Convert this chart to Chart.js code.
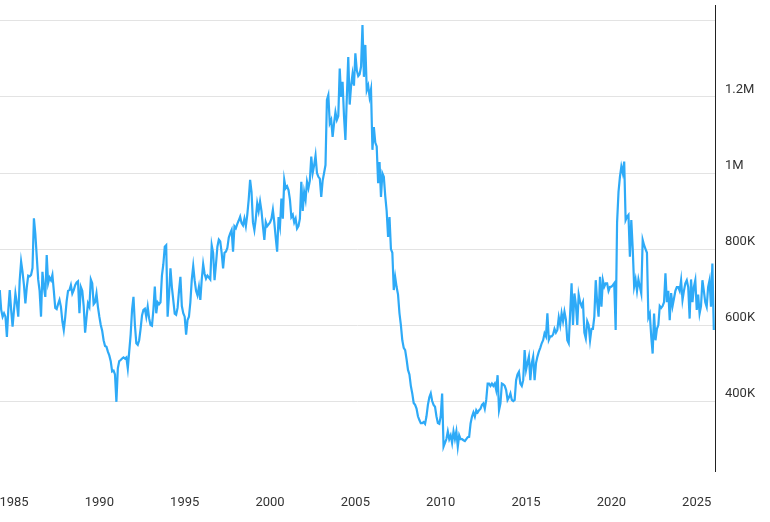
<!DOCTYPE html>
<html>
<head>
<meta charset="utf-8">
<script src="https://cdn.jsdelivr.net/npm/chart.js@4"></script>
<style>
  html, body { margin: 0; padding: 0; background: #fff; }
  #wrap { width: 770px; height: 522px; }
</style>
</head>
<body>
<div id="wrap"><canvas id="chart"></canvas></div>
<script>
// monthly values, thousands of units, starting Jan 1984
const startYear = 1984
const sales = [
  640, 660, 692, 640, 622, 631, 622, 569, 640, 692, 640, 596, // 1984
  640, 683, 657, 622, 718, 767, 740, 705, 657, 700, 730, 728, // 1985
  732, 750, 881, 840, 780, 720, 690, 622, 740, 700, 674, 784, // 1986
  710, 725, 718, 732, 690, 645, 642, 655, 666, 648, 610, 587, // 1987
  620, 662, 690, 692, 705, 683, 692, 705, 712, 715, 631, 700, // 1988
  690, 650, 580, 620, 657, 648, 720, 710, 655, 660, 683, 648, // 1989
  622, 600, 585, 560, 545, 543, 530, 520, 505, 478, 480, 470, // 1990
  398, 486, 505, 508, 512, 515, 512, 515, 486, 530, 574, 640, // 1991
  674, 600, 552, 548, 560, 590, 625, 640, 643, 622, 648, 618, // 1992
  600, 598, 640, 701, 631, 660, 655, 660, 730, 760, 806, 810, // 1993
  622, 680, 749, 700, 665, 630, 627, 645, 690, 727, 650, 631, // 1994
  622, 575, 613, 622, 660, 720, 755, 718, 690, 678, 700, 666, // 1995
  720, 760, 735, 722, 730, 725, 720, 810, 790, 718, 760, 806, // 1996
  825, 820, 790, 749, 790, 793, 803, 830, 841, 850, 793, 860, // 1997
  855, 866, 875, 885, 868, 862, 880, 860, 890, 930, 982, 950, // 1998
  870, 850, 880, 920, 900, 925, 900, 860, 824, 871, 860, 865, // 1999
  870, 880, 903, 870, 830, 793, 884, 860, 933, 880, 982, 960, // 2000
  965, 955, 930, 884, 890, 870, 880, 854, 860, 880, 977, 900, // 2001
  950, 930, 977, 960, 980, 1043, 1000, 1020, 1046, 1000, 990, 985, // 2002
  937, 980, 1000, 1021, 1192, 1205, 1131, 1140, 1095, 1130, 1160, 1140, // 2003
  1150, 1275, 1200, 1240, 1150, 1087, 1200, 1305, 1180, 1230, 1260, 1230, // 2004
  1315, 1270, 1255, 1260, 1280, 1389, 1253, 1337, 1218, 1230, 1200, 1220, // 2005
  1061, 1121, 1080, 1070, 973, 1029, 937, 999, 990, 940, 900, 832, // 2006
  884, 800, 790, 692, 726, 700, 680, 631, 600, 560, 540, 534, // 2007
  510, 482, 470, 440, 420, 395, 390, 380, 360, 350, 342, 342, // 2008
  345, 340, 360, 390, 410, 420, 400, 390, 385, 360, 342, 340, // 2009
  360, 420, 280, 290, 300, 320, 300, 310, 290, 320, 300, 320, // 2010
  280, 310, 300, 300, 297, 295, 300, 305, 306, 341, 359, 370, // 2011
  359, 376, 370, 376, 380, 390, 394, 380, 403, 446, 446, 440, // 2012
  446, 440, 446, 429, 468, 376, 394, 446, 444, 440, 429, 403, // 2013
  410, 420, 403, 400, 403, 455, 470, 477, 446, 440, 455, 534, // 2014
  482, 500, 517, 455, 500, 517, 455, 500, 517, 530, 540, 552, // 2015
  560, 578, 570, 631, 561, 570, 570, 575, 590, 580, 587, 620, // 2016
  600, 631, 610, 635, 615, 560, 552, 631, 710, 600, 683, 655, // 2017
  600, 680, 660, 650, 660, 580, 565, 610, 600, 560, 590, 590, // 2018
  622, 718, 660, 622, 727, 648, 718, 701, 710, 710, 690, 700, // 2019
  701, 705, 710, 587, 870, 950, 990, 1017, 1000, 1030, 876, 885, // 2020
  890, 780, 876, 800, 701, 720, 690, 720, 701, 683, 824, 810, // 2021
  800, 790, 620, 630, 570, 525, 630, 560, 590, 600, 650, 645, // 2022
  650, 660, 736, 660, 690, 613, 684, 650, 670, 690, 700, 700, // 2023
  690, 718, 666, 690, 710, 718, 700, 617, 720, 660, 700, 718, // 2024
  640, 680, 630, 650, 718, 690, 660, 648, 700, 718, 648, 762, // 2025
  587 // 2026
]
const yearTicks = [1985, 1990, 1995, 2000, 2005, 2010, 2015, 2020, 2025]
const valueTicks = [400, 600, 800, 1000, 1200, 1400]
const valueLabels = ['400K', '600K', '800K', '1M', '1.2M', '']

const points = sales.map((v, i) => ({ x: startYear + i / 12, y: v }))

new Chart(document.getElementById('chart'), {
  type: 'line',
  data: {
    datasets: [{
      data: points,
      borderColor: '#2eaaf7',
      borderWidth: 2.2,
      pointRadius: 0,
      tension: 0
    }]
  },
  options: {
    responsive: true,
    maintainAspectRatio: false,
    animation: false,
    layout: { padding: { top: 5, bottom: 0, left: 0, right: 0 } },
    plugins: { legend: { display: false }, tooltip: { enabled: false } },
    scales: {
      x: {
        type: 'linear',
        min: 1984.18,
        max: 2026.07,
        afterBuildTicks: s => { s.ticks = yearTicks.map(v => ({ value: v })) },
        afterFit: s => { s.height = 51; s.paddingLeft = 0; s.paddingRight = 0 },
        grid: { display: false },
        border: { display: false },
        ticks: {
          color: '#333',
          font: { family: 'Roboto', size: 13 },
          padding: 16,
          maxRotation: 0,
          callback: v => String(v)
        }
      },
      y: {
        position: 'right',
        min: 216,
        max: 1442,
        afterBuildTicks: s => { s.ticks = valueTicks.map(v => ({ value: v })) },
        afterFit: s => { s.width = 55; s.paddingTop = 0; s.paddingBottom = 0 },
        grid: { color: '#e3e3e3', drawTicks: false },
        border: { display: true, color: '#222', width: 1 },
        ticks: {
          color: '#333',
          font: { family: 'Roboto', size: 13 },
          padding: 10,
          labelOffset: -7,
          callback: v => valueLabels[valueTicks.indexOf(v)]
        }
      }
    }
  }
})
</script>
</body>
</html>
